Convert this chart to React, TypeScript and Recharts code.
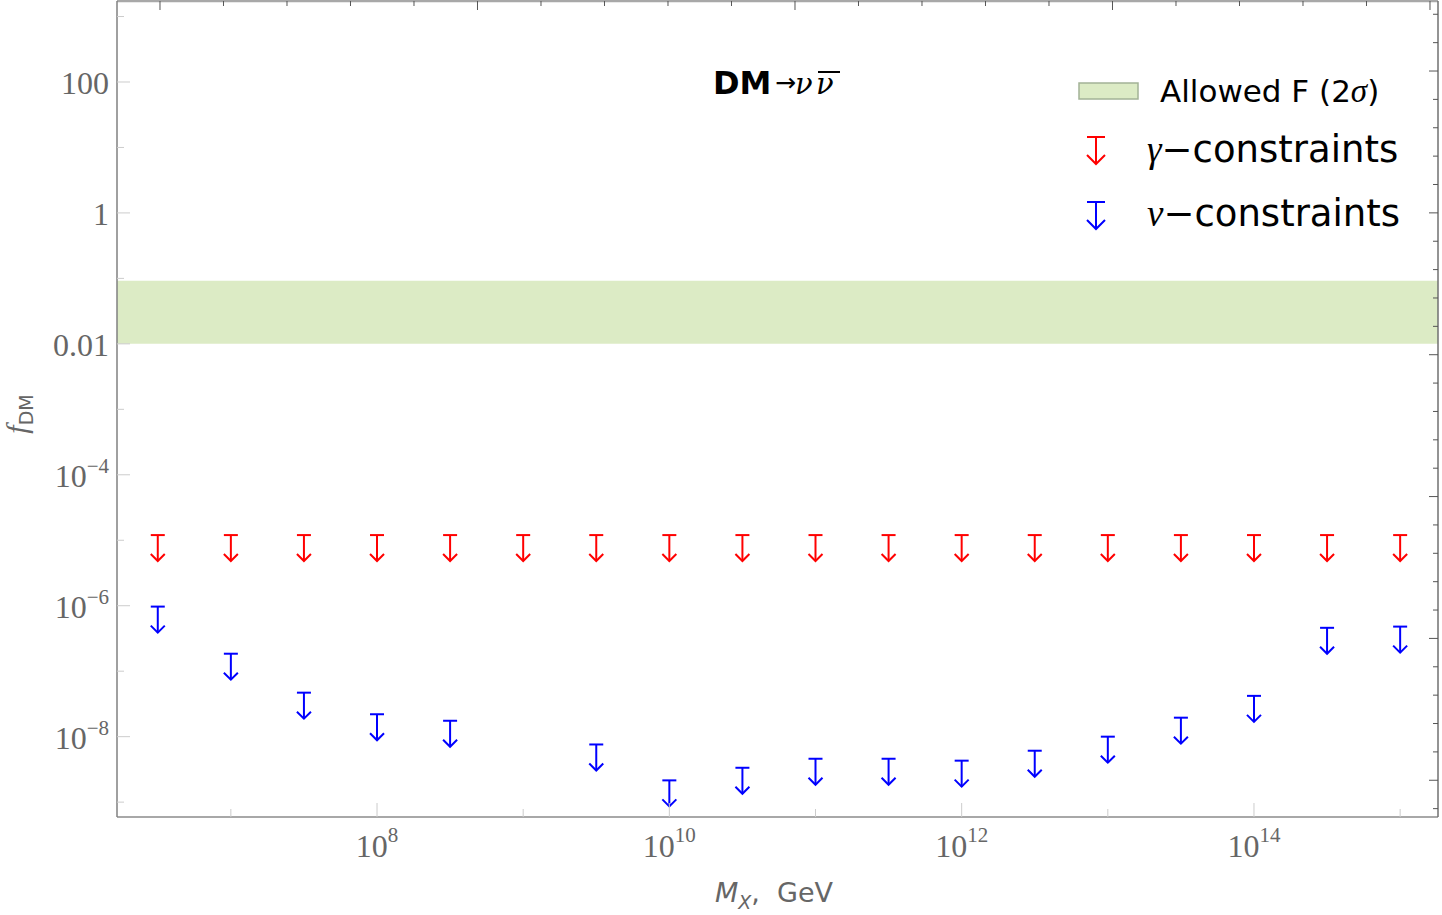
import React from "react";
import { Customized, Legend, ReferenceArea, Scatter, ScatterChart, XAxis, YAxis } from "recharts";

// Dark-matter mass grid (GeV), half-decade steps
const massGeV = [
  3.162e6, 1e7, 3.162e7, 1e8, 3.162e8, 1e9, 3.162e9, 1e10, 3.162e10,
  1e11, 3.162e11, 1e12, 3.162e12, 1e13, 3.162e13, 1e14, 3.162e14, 1e15,
];

// Upper limits on f_DM
const gammaLimit = [
  1.2e-5, 1.2e-5, 1.2e-5, 1.2e-5, 1.2e-5, 1.2e-5, 1.2e-5, 1.2e-5, 1.2e-5,
  1.2e-5, 1.2e-5, 1.2e-5, 1.2e-5, 1.2e-5, 1.2e-5, 1.2e-5, 1.2e-5, 1.2e-5,
];
const nuLimit = [
  9.7e-7, 1.85e-7, 4.7e-8, 2.2e-8, 1.75e-8, null, 7.6e-9, 2.15e-9, 3.35e-9,
  4.6e-9, 4.6e-9, 4.3e-9, 6.1e-9, 1.0e-8, 1.95e-8, 4.2e-8, 4.6e-7, 4.8e-7,
];

// Allowed fraction band (2 sigma)
const allowedLow = 0.01;
const allowedHigh = 0.092;

const xTicks = [1e7, 1e8, 1e9, 1e10, 1e11, 1e12, 1e13, 1e14, 1e15];
const yTicks = [1e-9, 1e-8, 1e-7, 1e-6, 1e-5, 1e-4, 1e-3, 1e-2, 1e-1, 1, 10, 100, 1000];
// unlabelled frame ticks on the top and right edges
const topTicks = [0, 1, 2, 3, 4, 5, 6, 7, 8, 9, 10, 11, 12, 13, 14, 15, 16, 17, 18, 19, 20];
const rightTicks = [-1, 0, 1, 2, 3, 4, 5, 6, 7, 8, 9, 10, 11, 12, 13, 14, 15, 16, 17, 18, 19, 20, 21, 22, 23, 24, 25, 26, 27];
// keeps the secondary frame axes alive (never drawn)
const frameAnchor = [{ t: 10, r: 10 }];

const RED = "#ff0000";
const BLUE = "#0000ff";
const BAND = "#dcebc5";
const LABEL_GRAY = "#666666";
const SERIF = "'Liberation Serif', 'Times New Roman', serif";
const SANS = "'DejaVu Sans', Verdana, sans-serif";

const gammaData = massGeV.map((m, i) => ({ m, f: gammaLimit[i] }));
const nuData = massGeV
  .map((m, i) => ({ m, f: nuLimit[i] }))
  .filter((d) => d.f != null);

// bar at the limit, arrow pointing down
const arrowGlyph = (cx: number, cy: number, color: string, half: number, len: number) => (
  <g stroke={color} strokeWidth={2} fill="none">
    <line x1={cx - half} x2={cx + half} y1={cy} y2={cy} />
    <line x1={cx} x2={cx} y1={cy} y2={cy + len} />
    <polyline points={`${cx - half},${cy + len - half} ${cx},${cy + len} ${cx + half},${cy + len - half}`} />
  </g>
);

const LimitArrow = (props: any) => {
  const { cx, cy, fill } = props;
  if (cx == null || cy == null) return null;
  return arrowGlyph(cx, cy, fill, 7, 26);
};

const powerLabel = (exp: number) => {
  if (exp === 2) return "100";
  if (exp === 0) return "1";
  if (exp === -2) return "0.01";
  return null;
};

const LeftTick = (props: any) => {
  const { x, y, payload } = props;
  const e = Math.round(Math.log10(payload.value));
  const major = e % 2 === 0;
  const plain = powerLabel(e);
  return (
    <g>
      <line x1={x} x2={x + (major ? 13 : 7)} y1={y} y2={y} stroke="#cccccc" strokeWidth={1} />
      {major && (
        <text x={x - 8} y={y + 12} textAnchor="end" fill={LABEL_GRAY} fontFamily={SERIF} fontSize={32}>
          {plain ?? (
            <>
              <tspan>10</tspan>
              <tspan dy={-14} fontSize={21}>{`\u2212${Math.abs(e)}`}</tspan>
            </>
          )}
        </text>
      )}
    </g>
  );
};

const BottomTick = (props: any) => {
  const { x, y, payload } = props;
  const e = Math.round(Math.log10(payload.value));
  const major = e % 2 === 0;
  return (
    <g>
      <line x1={x} x2={x} y1={y} y2={y - (major ? 14 : 8)} stroke="#cccccc" strokeWidth={1} />
      {major && (
        <text x={x} y={y + 40} textAnchor="middle" fill={LABEL_GRAY} fontFamily={SERIF} fontSize={32}>
          <tspan>10</tspan>
          <tspan dy={-15} fontSize={21}>{e}</tspan>
        </text>
      )}
    </g>
  );
};

const TopTick = (props: any) => {
  const { x, y, payload } = props;
  const major = payload.value % 5 === 0;
  return <line x1={x} x2={x} y1={y} y2={y + (major ? 9 : 5)} stroke="#555555" strokeWidth={1} />;
};

const RightTick = (props: any) => {
  const { x, y, payload } = props;
  const major = ((payload.value % 5) + 5) % 5 === 0;
  return <line x1={x} x2={x - (major ? 9 : 5)} y1={y} y2={y} stroke="#555555" strokeWidth={1} />;
};

const Annotations = () => (
  <g>
    <text x={713} y={94} fill="#000">
      <tspan fontFamily={SANS} fontWeight="bold" fontSize={32}>DM</tspan>
      <tspan x={775} dy={-3} fontFamily={SANS} fontSize={25}>{"\u2192"}</tspan>
      <tspan x={795} dy={3} fontFamily="'DejaVu Serif', serif" fontStyle="italic" fontSize={29}>{"\u03bd"}</tspan>
      <tspan x={816} fontFamily="'DejaVu Serif', serif" fontStyle="italic" fontSize={29}>{"\u03bd"}</tspan>
    </text>
    <line x1={818} x2={840} y1={72} y2={72} stroke="#000" strokeWidth={2} />
    <text x={715} y={902} fill={LABEL_GRAY} fontFamily={SANS} fontSize={27}>
      <tspan fontStyle="italic">M</tspan>
      <tspan fontStyle="italic" fontSize={19} dy={7}>X</tspan>
      <tspan dy={-7}>{",\u00a0\u00a0GeV"}</tspan>
    </text>
    <text x={0} y={0} transform="translate(27 414) rotate(-90)" textAnchor="middle" fill={LABEL_GRAY}>
      <tspan fontFamily={SERIF} fontStyle="italic" fontSize={30}>f</tspan>
      <tspan fontFamily={SANS} fontSize={19} dy={6}>DM</tspan>
    </text>
  </g>
);

const LegendBox = () => (
  <svg width={392} height={190} style={{ display: "block" }}>
    <rect x={29} y={23} width={59} height={16} fill={BAND} stroke="#a3b396" strokeWidth={1.5} />
    <text x={110} y={42} fontFamily={SANS} fontSize={31} fill="#000">
      Allowed F (2<tspan fontFamily={SERIF} fontStyle="italic" fontSize={33}>{"\u03c3"}</tspan>)
    </text>
    {arrowGlyph(46, 77, RED, 9, 27)}
    <text x={97} y={102} fontSize={37} fill="#000">
      <tspan fontFamily={SERIF} fontStyle="italic">{"\u03b3"}</tspan>
      <tspan fontFamily={SANS}>{"\u2212constraints"}</tspan>
    </text>
    {arrowGlyph(46, 142, BLUE, 9, 27)}
    <text x={97} y={166} fontSize={37} fill="#000">
      <tspan fontFamily={SERIF} fontStyle="italic">{"\u03bd"}</tspan>
      <tspan fontFamily={SANS}>{"\u2212constraints"}</tspan>
    </text>
  </svg>
);

export default function App() {
  return (
    <div style={{ position: "absolute", left: 0, top: 0, width: 1442, height: 915, background: "#fff" }}>
      <ScatterChart width={1442} height={915} margin={{ top: 0, right: 3, bottom: 0, left: 0 }}>
        <XAxis
          xAxisId="bottom"
          dataKey="m"
          type="number"
          scale="log"
          domain={[10 ** 6.221, 10 ** 15.259]}
          allowDataOverflow
          ticks={xTicks}
          interval={0}
          height={98}
          tickSize={0}
          tickMargin={0}
          tickLine={false}
          axisLine={{ stroke: "#a8a8a8", strokeWidth: 2 }}
          tick={BottomTick}
        />
        <XAxis
          xAxisId="top"
          dataKey="t"
          orientation="top"
          type="number"
          domain={[-0.677, 20.126]}
          allowDataOverflow
          ticks={topTicks}
          interval={0}
          height={1}
          tickSize={0}
          tickMargin={0}
          tickLine={false}
          axisLine={{ stroke: "#a8a8a8", strokeWidth: 2.5 }}
          tick={TopTick}
        />
        <YAxis
          yAxisId="left"
          dataKey="f"
          type="number"
          scale="log"
          domain={[10 ** -9.227, 10 ** 3.237]}
          allowDataOverflow
          ticks={yTicks}
          interval={0}
          width={117}
          tickSize={0}
          tickMargin={0}
          tickLine={false}
          axisLine={{ stroke: "#808080", strokeWidth: 1.5 }}
          tick={LeftTick}
        />
        <YAxis
          yAxisId="right"
          dataKey="r"
          orientation="right"
          type="number"
          domain={[-1.295, 27.468]}
          allowDataOverflow
          ticks={rightTicks}
          interval={0}
          width={1}
          tickSize={0}
          tickMargin={0}
          tickLine={false}
          axisLine={{ stroke: "#707070", strokeWidth: 1.5 }}
          tick={RightTick}
        />
        <ReferenceArea
          xAxisId="bottom"
          yAxisId="left"
          y1={allowedLow}
          y2={allowedHigh}
          fill={BAND}
          fillOpacity={1}
          stroke="none"
          ifOverflow="hidden"
        />
        <Scatter
          xAxisId="top"
          yAxisId="right"
          data={frameAnchor}
          shape={() => <g />}
          legendType="none"
          isAnimationActive={false}
        />
        <Scatter
          name="gamma"
          xAxisId="bottom"
          yAxisId="left"
          data={gammaData}
          fill={RED}
          shape={LimitArrow}
          isAnimationActive={false}
        />
        <Scatter
          name="nu"
          xAxisId="bottom"
          yAxisId="left"
          data={nuData}
          fill={BLUE}
          shape={LimitArrow}
          isAnimationActive={false}
        />
        <Legend
          content={LegendBox}
          layout="horizontal"
          verticalAlign="middle"
          align="center"
          wrapperStyle={{ position: "absolute", left: 1050, top: 60, width: 392, height: 190 }}
        />
        <Customized component={Annotations} />
      </ScatterChart>
    </div>
  );
}
